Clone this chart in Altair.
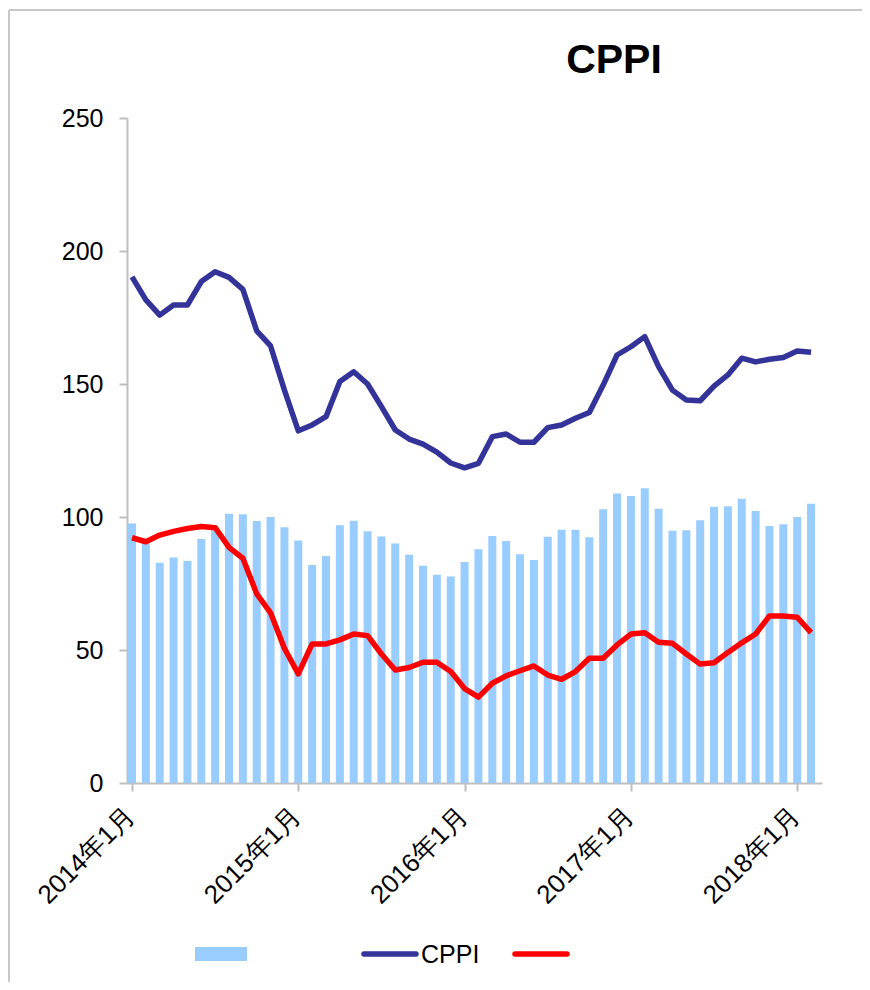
import altair as alt
import pandas as pd

# ---- data ----
year_labels = ["2014年1月", "2015年1月", "2016年1月", "2017年1月", "2018年1月"]
month_index = list(range(50))  # 2014-01 .. 2018-02
bar_values = [97.6, 90.5, 82.8, 84.8, 83.5, 91.7, 95.0, 101.2, 101.0, 98.5,
              100.0, 96.1, 91.2, 82.0, 85.3, 96.9, 98.6, 94.6, 92.7, 90.0,
              85.8, 81.7, 78.3, 77.6, 83.1, 87.9, 92.9, 91.0, 86.0, 83.8,
              92.6, 95.2, 95.2, 92.4, 102.9, 108.8, 107.9, 110.8, 103.1, 94.8,
              95.0, 98.8, 103.9, 104.0, 106.9, 102.3, 96.6, 97.3, 100.0, 105.0]
cppi_values = [190.3, 181.6, 175.9, 179.7, 179.7, 188.5, 192.2, 190.1, 185.6, 170.0,
               164.3, 147.7, 132.4, 134.6, 137.7, 150.9, 154.6, 150.0, 141.5, 132.7,
               129.3, 127.4, 124.4, 120.3, 118.5, 120.2, 130.2, 131.2, 128.1, 128.1,
               133.6, 134.6, 137.1, 139.3, 149.6, 160.9, 164.0, 167.8, 156.5, 147.7,
               144.0, 143.7, 149.2, 153.4, 159.7, 158.3, 159.3, 160.0, 162.4, 161.9]
red_values = [92.2, 90.7, 93.2, 94.6, 95.7, 96.4, 96.0, 88.6, 84.5, 71.1,
              64.0, 50.6, 41.0, 52.3, 52.3, 53.8, 56.0, 55.4, 48.5, 42.5,
              43.4, 45.4, 45.4, 41.9, 35.5, 32.3, 37.5, 40.3, 42.2, 44.0,
              40.6, 39.0, 41.9, 46.9, 46.9, 51.9, 56.0, 56.5, 52.9, 52.5,
              48.5, 44.7, 45.2, 49.1, 52.7, 56.0, 62.8, 62.8, 62.3, 56.5]
title_text = "CPPI"
legend_labels = ["", "CPPI", ""]

df = pd.DataFrame({"i": month_index, "bar": bar_values,
                   "cppi": cppi_values, "red": red_values})
one = pd.DataFrame({"k": [0]})

FONT = "Liberation Sans"
W, H = 695, 665
AX = "#BFBFBF"

label_expr = "[" + ",".join("'%s'" % s for s in year_labels) + "][round(datum.value/12)]"

x_enc = alt.X("i:Q",
              scale=alt.Scale(domain=[0, 49.43], nice=False, zero=False),
              axis=alt.Axis(values=[0, 12, 24, 36, 48], labelExpr=label_expr,
                            labelAngle=-45, labelFontSize=26, labelFont=FONT,
                            labelColor="black", tickSize=8, tickColor=AX,
                            domainColor=AX, domainWidth=2, tickWidth=2,
                            labelPadding=11, labelOffset=-11, grid=False,
                            title=None))
y_scale = alt.Scale(domain=[0, 250], nice=False)
y_axis = alt.Axis(values=[0, 50, 100, 150, 200, 250], labelFontSize=25,
                  labelFont=FONT, labelColor="black", tickSize=8, tickColor=AX,
                  domainColor=AX, domainWidth=2, tickWidth=2, labelPadding=16,
                  grid=False, title=None)

bars = alt.Chart(df).mark_bar(size=8, color="#99CCFF", clip=True,
                              orient="vertical").encode(
    x=x_enc, y=alt.Y("bar:Q", scale=y_scale, axis=y_axis))
cppi = alt.Chart(df).mark_line(color="#333399", strokeWidth=5.5,
                               strokeJoin="round").encode(
    x="i:Q", y="cppi:Q")
red = alt.Chart(df).mark_line(color="#FF0000", strokeWidth=5.5,
                              strokeJoin="round").encode(
    x="i:Q", y="red:Q")

# title
title = alt.Chart(one).mark_text(text=title_text, font=FONT, fontSize=41,
                                 fontWeight="bold", align="center",
                                 baseline="alphabetic", color="black").encode(
    x=alt.value(487), y=alt.value(-45))

# legend (drawn manually)
leg_rect = alt.Chart(one).mark_rect(color="#99CCFF").encode(
    x=alt.value(68), x2=alt.value(120), y=alt.value(829), y2=alt.value(843))
leg_blue = alt.Chart(one).mark_rule(color="#333399", strokeWidth=5.5,
                                    strokeCap="round").encode(
    x=alt.value(237), x2=alt.value(289), y=alt.value(836))
leg_text = alt.Chart(one).mark_text(text=legend_labels[1], font=FONT,
                                    fontSize=25, align="left",
                                    baseline="middle", color="black").encode(
    x=alt.value(294), y=alt.value(837))
leg_red = alt.Chart(one).mark_rule(color="#FF0000", strokeWidth=5.5,
                                   strokeCap="round").encode(
    x=alt.value(388), x2=alt.value(440), y=alt.value(836))

# outer frame
frame_left = alt.Chart(one).mark_rule(color="#C8C8C8", strokeWidth=2).encode(
    x=alt.value(-118), y=alt.value(-108), y2=alt.value(864))
frame_top = alt.Chart(one).mark_rule(color="#C8C8C8", strokeWidth=2).encode(
    x=alt.value(-118), x2=alt.value(735), y=alt.value(-108))

chart = alt.layer(bars, cppi, red, title, leg_rect, leg_blue, leg_text,
                  leg_red, frame_left, frame_top).properties(
    width=W, height=H,
    background="white",
    autosize=alt.AutoSizeParams(type="none"),
    padding={"left": 119, "top": 110, "right": 40, "bottom": 199},
).configure_view(stroke="transparent", strokeWidth=0)

chart.save("out.html", embed_options={"renderer": "svg", "actions": False})
